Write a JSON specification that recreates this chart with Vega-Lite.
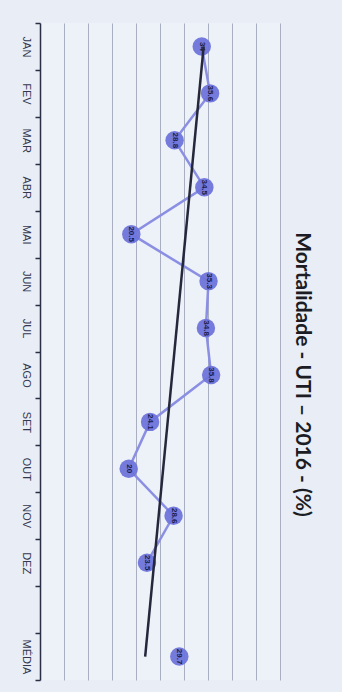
{
  "$schema": "https://vega.github.io/schema/vega-lite/v6.json",
  "width": 240,
  "height": 657,
  "autosize": {"type": "none"},
  "padding": {"left": 40, "top": 23, "right": 62, "bottom": 12},
  "background": "#e8edf6",
  "title": {
    "text": "Mortalidade - UTI – 2016 - (%)",
    "orient": "right",
    "anchor": "middle",
    "offset": 12,
    "dx": 23,
    "font": "Lato",
    "fontSize": 21,
    "fontWeight": "bold",
    "color": "#1c1c24"
  },
  "config": {"view": {"fill": "#edf1f8", "stroke": null}},
  "data": {
    "values": [
      {"mes": "JAN", "idx": 1, "taxa": 34, "tipo": "mes"},
      {"mes": "FEV", "idx": 2, "taxa": 35.6, "tipo": "mes"},
      {"mes": "MAR", "idx": 3, "taxa": 28.8, "tipo": "mes"},
      {"mes": "ABR", "idx": 4, "taxa": 34.5, "tipo": "mes"},
      {"mes": "MAI", "idx": 5, "taxa": 20.5, "tipo": "mes"},
      {"mes": "JUN", "idx": 6, "taxa": 35.3, "tipo": "mes"},
      {"mes": "JUL", "idx": 7, "taxa": 34.8, "tipo": "mes"},
      {"mes": "AGO", "idx": 8, "taxa": 35.8, "tipo": "mes"},
      {"mes": "SET", "idx": 9, "taxa": 24.1, "tipo": "mes"},
      {"mes": "OUT", "idx": 10, "taxa": 20, "tipo": "mes"},
      {"mes": "NOV", "idx": 11, "taxa": 28.6, "tipo": "mes"},
      {"mes": "DEZ", "idx": 12, "taxa": 23.5, "tipo": "mes"},
      {"mes": "MÉDIA", "idx": 14, "taxa": 29.7, "tipo": "media"}
    ]
  },
  "encoding": {
    "y": {
      "field": "idx",
      "type": "quantitative",
      "scale": {"domain": [0.5, 14.5], "reverse": true, "nice": false, "zero": false},
      "axis": {
        "title": null,
        "grid": false,
        "values": [0.5, 1, 1.5, 2, 2.5, 3, 3.5, 4, 4.5, 5, 5.5, 6, 6.5, 7, 7.5, 8, 8.5, 9, 9.5, 10, 10.5, 11, 11.5, 12, 12.5, 13, 13.5, 14, 14.5],
        "labelExpr": "datum.value % 1 === 0 ? ['JAN','FEV','MAR','ABR','MAI','JUN','JUL','AGO','SET','OUT','NOV','DEZ','','MÉDIA'][datum.value - 1] : ''",
        "labelAngle": 90,
        "labelAlign": "center",
        "labelBaseline": "top",
        "labelPadding": 4,
        "labelFont": "Liberation Sans",
        "labelFontSize": 11,
        "labelColor": "#33384f",
        "labelOverlap": false,
        "labelFlush": false,
        "tickSize": 5,
        "tickWidth": 1.5,
        "tickColor": {"condition": {"test": "datum.value % 1 === 0", "value": "transparent"}, "value": "#2b2f45"},
        "domainColor": "#2b2f45",
        "domainWidth": 1.5
      }
    },
    "x": {
      "field": "taxa",
      "type": "quantitative",
      "scale": {"domain": [3, 49], "nice": false, "zero": false},
      "axis": {
        "title": null,
        "values": [7.6, 12.2, 16.8, 21.4, 26, 30.6, 35.2, 39.8, 44.4, 49],
        "grid": true,
        "gridColor": "#a9aec0",
        "gridWidth": 1,
        "labels": false,
        "ticks": false,
        "domain": false
      }
    }
  },
  "layer": [
    {
      "transform": [{"filter": "datum.tipo === 'mes'"}],
      "mark": {"type": "line", "color": "#8a8fe3", "strokeWidth": 2.5},
      "encoding": {"order": {"field": "idx", "type": "quantitative"}}
    },
    {
      "mark": {"type": "circle", "size": 340, "color": "#6f74db", "opacity": 0.95}
    },
    {
      "mark": {"type": "text", "angle": 90, "fontSize": 8, "fontWeight": "bold", "color": "#1b1d4a", "font": "Liberation Sans"},
      "encoding": {"text": {"field": "taxa", "type": "quantitative"}}
    },
    {
      "transform": [
        {"filter": "datum.tipo === 'mes'"},
        {"regression": "taxa", "on": "idx", "extent": [1, 14]}
      ],
      "mark": {"type": "line", "color": "#25273a", "strokeWidth": 2.5},
      "encoding": {"order": {"field": "idx", "type": "quantitative"}}
    }
  ]
}
